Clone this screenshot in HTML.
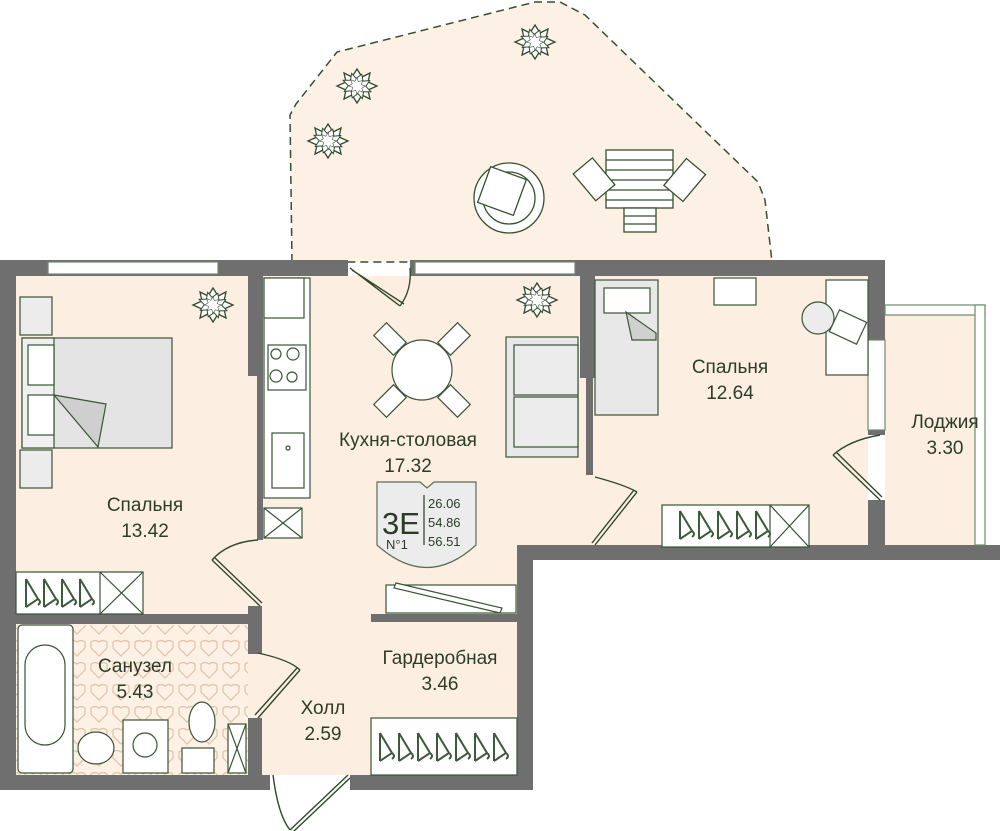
<!DOCTYPE html>
<html><head><meta charset="utf-8"><style>
html,body{margin:0;padding:0;background:#fff;width:1000px;height:831px;overflow:hidden}
svg{display:block}
text{font-family:"Liberation Sans",sans-serif;fill:#2b3d29}
</style></head><body>
<svg width="1000" height="831" viewBox="0 0 1000 831" xmlns="http://www.w3.org/2000/svg">
<defs>
<pattern id="tile" width="22" height="22" patternUnits="userSpaceOnUse">
<rect width="22" height="22" fill="#fdf0e4"/>
<path d="M3 4 q4-3 8 0 q4-3 8 0 v6 q-4 4-8 8 q-4-4-8-8z" fill="none" stroke="#e0c2ab" stroke-width="1.2"/>
</pattern>
<g id="hanger" fill="none" stroke="#3d5a3a" stroke-width="2"><path d="M0 -14 L0 14 M0 -14 L12 6 L0 14 M12 6 q4 3 0 6"/></g>
<g id="star" fill="#fff" stroke="#2f4a2d" stroke-width="1.3">
<path d="M0 -17 l5 8 l8-4 l-2 9 l9 4 l-9 4 l2 9 l-8-4 l-5 8 l-5-8 l-8 4 l2-9 l-9-4 l9-4 l-2-9 l8 4z"/></g>
<g id="plant"><use href="#star"/><use href="#star" transform="rotate(22) scale(0.75)"/><use href="#star" transform="rotate(45) scale(0.45)"/></g>
</defs>
<!-- terrace -->
<path d="M292 262 L290 115 L296 104 L337 52 L535 2 L560 2 L585 15 L758 182 L765 200 L772 262 Z" fill="#fdf0e4" stroke="#35502f" stroke-width="1.5" stroke-dasharray="8 5"/>
<g transform="translate(328,141)"><use href="#plant"/></g>
<g transform="translate(357,86)"><use href="#plant"/></g>
<g transform="translate(535,42)"><use href="#plant"/></g>
<g fill="#fff" stroke="#35502f" stroke-width="1.3">
<circle cx="509" cy="198" r="35"/><circle cx="509" cy="198" r="26"/>
<rect x="483" y="172" width="38" height="38" transform="rotate(20 502 191)"/>
<rect x="606" y="150" width="67" height="58"/>
<path d="M606 160h67M606 170h67M606 180h67M606 190h67M606 200h67"/>
<rect x="624" y="208" width="32" height="24"/>
<path d="M624 216h32M624 224h32"/>
<rect x="582" y="162" width="25" height="35" transform="rotate(-40 594 180)"/>
<rect x="672" y="162" width="25" height="35" transform="rotate(40 684 180)"/>
</g>
<!-- interior floor -->
<path d="M16 276 H868 V545 H533 V775 H16 Z" fill="#fdeee2"/>
<rect x="885" y="305" width="100" height="240" fill="#fdeee2"/>
<rect x="16" y="625" width="232" height="150" fill="url(#tile)"/>
<!-- walls -->
<g fill="#6f6f6f">
<rect x="0" y="260" width="348" height="16"/>
<rect x="410" y="260" width="475" height="16"/>
<rect x="0" y="260" width="16" height="530"/>
<rect x="868" y="260" width="17" height="175"/>
<rect x="868" y="500" width="17" height="58"/>
<rect x="517" y="545" width="483" height="15"/>
<rect x="517" y="545" width="16" height="245"/>
<rect x="0" y="775" width="270" height="15"/>
<rect x="350" y="775" width="183" height="15"/>
<rect x="248" y="276" width="15" height="100"/>
<rect x="257" y="376" width="6" height="164"/>
<rect x="580" y="276" width="15" height="102"/>
<rect x="586" y="378" width="7" height="97"/>
<rect x="16" y="614" width="238" height="10"/>
<rect x="248" y="606" width="14" height="48"/>
<rect x="248" y="718" width="14" height="57"/>
<rect x="371" y="614" width="146" height="8"/>
</g>
<!-- windows -->
<g fill="#fff" stroke="#6f8a6a" stroke-width="1.2">
<rect x="48" y="262" width="170" height="12"/>
<rect x="415" y="262" width="160" height="12"/>
<rect x="885" y="305" width="100" height="10"/>
<rect x="975" y="305" width="10" height="240"/>
<rect x="868" y="340" width="17" height="90"/>
</g>
<!-- doors -->
<g fill="none" stroke="#2f4a2d" stroke-width="1.4">
<path d="M350 268 L400 306 M352 270 L404 304"/><path d="M400 306 Q412 290 410 268"/>
<path d="M258 540 Q228 542 212 560"/><path d="M212 560 L260 606 M215 558 L262 603"/>
<path d="M595 477 Q625 485 637 492"/><path d="M637 492 L595 545 M634 490 L592 543"/>
<path d="M880 435 Q850 440 833 455"/><path d="M833 455 L880 500 M836 452 L882 497"/>
<path d="M258 653 Q290 660 300 670"/><path d="M300 670 L258 718 M297 668 L255 715"/>
<path d="M273 775 Q278 815 290 830"/><path d="M290 830 L348 775 M293 832 L350 778"/>
</g>
<!-- bedroom 1 furniture -->
<g stroke="#3a5436" stroke-width="1.2">
<rect x="20" y="297" width="32" height="38" fill="#ececec"/>
<rect x="20" y="450" width="32" height="38" fill="#ececec"/>
<rect x="22" y="338" width="150" height="110" fill="#e4e4e4"/>
<rect x="22" y="338" width="32" height="110" fill="#f0f0f0"/>
<rect x="28" y="345" width="26" height="40" fill="#fff"/>
<rect x="28" y="395" width="26" height="40" fill="#fff"/>
<path d="M54 395 L106 404 L98 447 Z" fill="#cfcfcf"/>
<rect x="16" y="572" width="127" height="42" fill="#fff"/>
<path d="M100 572v42M100 572L143 614M143 572L100 614" fill="none"/>
</g>
<g transform="translate(26,593)"><use href="#hanger"/></g>
<g transform="translate(44,593)"><use href="#hanger"/></g>
<g transform="translate(62,593)"><use href="#hanger"/></g>
<g transform="translate(80,593)"><use href="#hanger"/></g>
<g transform="translate(213,305)"><use href="#plant"/></g>
<g transform="translate(537,300)"><use href="#plant"/></g>
<!-- kitchen -->
<g fill="#fff" stroke="#3a5436" stroke-width="1.2">
<rect x="264" y="278" width="46" height="220"/>
<rect x="264" y="278" width="40" height="40"/>
<rect x="268" y="345" width="38" height="45"/>
<circle cx="276" cy="354" r="5"/><circle cx="293" cy="354" r="6"/><circle cx="276" cy="376" r="6"/><circle cx="292" cy="377" r="5"/>
<rect x="272" y="433" width="32" height="55"/><circle cx="288" cy="448" r="2"/>
<rect x="264" y="508" width="38" height="30"/><path d="M264 508L302 538M302 508L264 538"/>
<circle cx="422" cy="370" r="30"/>
<rect x="376" y="330" width="28" height="18" transform="rotate(45 390 339)"/>
<rect x="440" y="330" width="28" height="18" transform="rotate(-45 454 339)"/>
<rect x="376" y="392" width="28" height="18" transform="rotate(-45 390 401)"/>
<rect x="440" y="392" width="28" height="18" transform="rotate(45 454 401)"/>
<rect x="506" y="337" width="72" height="120" fill="#e8e8e8"/>
<rect x="514" y="345" width="64" height="50" fill="#ececec"/><rect x="514" y="397" width="64" height="50" fill="#ececec"/>
<rect x="386" y="585" width="130" height="28"/>
<path d="M396 583 L502 608 L500 613 L394 588Z"/>
</g>
<!-- badge -->
<path d="M377 482 H420 L427 488 L434 482 H476 V545 Q427 590 377 545 Z" fill="#ececec" stroke="#5a6e56" stroke-width="1.2"/>
<line x1="424" y1="495" x2="424" y2="545" stroke="#2b3d29" stroke-width="1.2"/>
<text x="382" y="534" font-size="31">3E</text>
<text x="386" y="549" font-size="13">N°1</text>
<text x="428" y="508" font-size="13">26.06</text>
<text x="428" y="527" font-size="13">54.86</text>
<text x="428" y="546" font-size="13">56.51</text>
<!-- bedroom 2 -->
<g fill="#fff" stroke="#3a5436" stroke-width="1.2">
<rect x="595" y="280" width="63" height="135" fill="#e8e8e8"/>
<rect x="604" y="288" width="46" height="25"/>
<path d="M626 312 L656 333 L656 340 L632 340Z" fill="#d0d0d0"/>
<rect x="714" y="278" width="42" height="27"/>
<rect x="826" y="280" width="42" height="95"/>
<circle cx="818" cy="318" r="16" fill="#ececec"/>
<rect x="833" y="315" width="30" height="24" transform="rotate(25 848 327)"/>
<rect x="662" y="505" width="147" height="42"/>
<path d="M770 505v42M770 505L809 547M809 505L770 547"/>
</g>
<g transform="translate(680,525)"><use href="#hanger"/></g>
<g transform="translate(699,525)"><use href="#hanger"/></g>
<g transform="translate(718,525)"><use href="#hanger"/></g>
<g transform="translate(737,525)"><use href="#hanger"/></g>
<g transform="translate(756,525)"><use href="#hanger"/></g>
<!-- bath -->
<g fill="#fff" stroke="#3a5436" stroke-width="1.2">
<rect x="18" y="625" width="55" height="148" rx="4"/>
<rect x="25" y="645" width="40" height="100" rx="20"/>
<ellipse cx="96" cy="748" rx="18" ry="16"/>
<rect x="123" y="720" width="45" height="53"/><circle cx="145" cy="745" r="12"/>
<ellipse cx="202" cy="722" rx="13" ry="20"/><rect x="182" y="748" width="32" height="25"/>
<rect x="228" y="724" width="18" height="49"/><path d="M228 724L246 773M246 724L228 773"/>
</g>
<!-- hall wardrobe -->
<rect x="371" y="718" width="146" height="57" fill="#fff" stroke="#3a5436" stroke-width="1.2"/>
<g transform="translate(380,747)"><use href="#hanger"/></g>
<g transform="translate(399,747)"><use href="#hanger"/></g>
<g transform="translate(418,747)"><use href="#hanger"/></g>
<g transform="translate(437,747)"><use href="#hanger"/></g>
<g transform="translate(456,747)"><use href="#hanger"/></g>
<g transform="translate(475,747)"><use href="#hanger"/></g>
<g transform="translate(494,747)"><use href="#hanger"/></g>
<!-- labels -->
<g font-size="19" text-anchor="middle">
<text x="145" y="511">Спальня</text><text x="145" y="537">13.42</text>
<text x="408" y="446">Кухня-столовая</text><text x="408" y="472">17.32</text>
<text x="730" y="373">Спальня</text><text x="730" y="399">12.64</text>
<text x="945" y="428">Лоджия</text><text x="945" y="454">3.30</text>
<text x="135" y="672">Санузел</text><text x="135" y="698">5.43</text>
<text x="440" y="664">Гардеробная</text><text x="440" y="690">3.46</text>
<text x="323" y="714">Холл</text><text x="323" y="740">2.59</text>
</g>
</svg>
</body></html>
